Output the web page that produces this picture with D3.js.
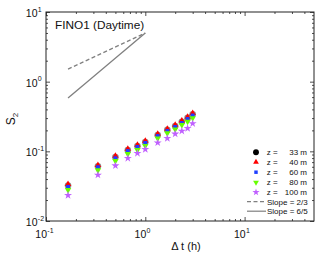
<!DOCTYPE html>
<html><head><meta charset="utf-8">
<script src="https://cdn.jsdelivr.net/npm/d3@7"></script>
<style>body{margin:0;background:#fff}svg{display:block;font-family:"Liberation Sans",Arial,sans-serif}</style>
</head><body><svg id="c" width="319" height="254"></svg>
<script>
// ---- data ----
const dt = [1/6, 1/3, 1/2, 2/3, 5/6, 1, 4/3, 5/3, 2, 7/3, 8/3, 3];
const z33  = [0.0322, 0.0610, 0.0830, 0.1040, 0.1190, 0.1360, 0.1720, 0.2030, 0.2310, 0.2660, 0.3020, 0.3400];
const z40  = [0.0337, 0.0632, 0.0859, 0.1080, 0.1236, 0.1410, 0.1780, 0.2096, 0.2390, 0.2760, 0.3120, 0.3520];
const z60  = [0.0309, 0.0592, 0.0796, 0.1010, 0.1156, 0.1320, 0.1660, 0.1960, 0.2240, 0.2550, 0.2920, 0.3270];
const z80  = [0.0279, 0.0536, 0.0728, 0.0918, 0.1047, 0.1200, 0.1540, 0.1820, 0.2070, 0.2390, 0.2670, 0.3010];
const z100 = [0.0234, 0.0458, 0.0623, 0.0796, 0.0939, 0.1070, 0.1330, 0.1540, 0.1780, 0.1960, 0.2140, 0.2510];
const seriesNames = ["z =   33 m", "z =   40 m", "z =   60 m", "z =   80 m", "z =  100 m"];
const heights = ["33 m", "40 m", "60 m", "80 m", "100 m"];
const slopeRange = [1/6, 1];
const slopeCoef = 5;
const slopes = [2/3, 6/5];
const slopeLabels = ["Slope = 2/3", "Slope = 6/5"];
const xMajor = [0.1, 1, 10];
const yMajor = [0.01, 0.1, 1, 10];
const xExp = ["-1", "0", "1"];
const yExp = ["-2", "-1", "0", "1"];

// ---- layout ----
const L = 46, R = 314, T = 12, B = 221;
const svg = d3.select("#c");
const x = d3.scaleLog().domain([0.1, 50]).range([L, R]);
const y = d3.scaleLog().domain([0.01, 10]).range([B, T]);

function minors(lo, hi) {
  const out = [];
  for (let e = Math.floor(Math.log10(lo)); e <= Math.ceil(Math.log10(hi)); e++)
    for (let m = 2; m <= 9; m++) { const v = m * Math.pow(10, e); if (v > lo && v < hi) out.push(v); }
  return out;
}
const axCol = "#222";
function styleAxis(g) { g.select(".domain").remove(); g.selectAll("line").attr("stroke", axCol).attr("stroke-width", 0.8); }

// minor & major ticks on all four sides (inward)
[[d3.axisBottom, B, "x"], [d3.axisTop, T, "x"]].forEach(([ax, pos]) => {
  svg.append("g").attr("transform", `translate(0,${pos})`)
    .call(ax(x).tickValues(minors(0.1, 50)).tickSize(pos === B ? -2 : -2).tickFormat("")).call(styleAxis);
  svg.append("g").attr("transform", `translate(0,${pos})`)
    .call(ax(x).tickValues(xMajor).tickSize(-4).tickFormat("")).call(styleAxis);
});
[[d3.axisLeft, L], [d3.axisRight, R]].forEach(([ax, pos]) => {
  svg.append("g").attr("transform", `translate(${pos},0)`)
    .call(ax(y).tickValues(minors(0.01, 10)).tickSize(-2).tickFormat("")).call(styleAxis);
  svg.append("g").attr("transform", `translate(${pos},0)`)
    .call(ax(y).tickValues(yMajor).tickSize(-4).tickFormat("")).call(styleAxis);
});

// frame
svg.append("rect").attr("x", L).attr("y", T).attr("width", R - L).attr("height", B - T)
  .attr("fill", "none").attr("stroke", axCol).attr("stroke-width", 1);

// tick labels
xMajor.forEach((v, i) => {
  const tx = x(v) + 1;
  svg.append("text").attr("x", tx).attr("y", 238).attr("text-anchor", "end").attr("font-size", 10.5).attr("fill", "#111").text("10");
  svg.append("text").attr("x", tx + 0.3).attr("y", 232.5).attr("font-size", 7).attr("fill", "#111").text(xExp[i]);
});
yMajor.forEach((v, i) => {
  const ty = y(v);
  svg.append("text").attr("x", 37.5).attr("y", ty + 5).attr("text-anchor", "end").attr("font-size", 10.5).attr("fill", "#111").text("10");
  svg.append("text").attr("x", 37.8).attr("y", ty - 0.5).attr("font-size", 7).attr("fill", "#111").text(yExp[i]);
});

// axis titles
svg.append("text").attr("x", 186).attr("y", 249.5).attr("text-anchor", "middle").attr("font-size", 11).attr("fill", "#111").text("Δ t (h)");
const yl = svg.append("text").attr("transform", "translate(15,119) rotate(-90)").attr("text-anchor", "middle").attr("font-size", 12).attr("fill", "#111");
yl.append("tspan").text("S");
yl.append("tspan").attr("font-size", 8).attr("dy", 3).text("2");

// title
svg.append("text").attr("x", 55).attr("y", 28.5).attr("font-size", 11.8).attr("fill", "#111").text("FINO1 (Daytime)");

// reference slope lines
const lineGen = d3.line().x(d => x(d[0])).y(d => y(d[1]));
const dashes = ["4,2.5", null];
slopes.forEach((s, i) => {
  const pts = slopeRange.map(t => [t, slopeCoef * Math.pow(t, s)]);
  svg.append("path").attr("d", lineGen(pts)).attr("fill", "none").attr("stroke", "#808080")
    .attr("stroke-width", 1.3).attr("stroke-dasharray", dashes[i]);
});

// markers
const series = [z33, z40, z60, z80, z100];
const colors = ["#000000", "#ff0000", "#1f3fff", "#66ff00", "#c060ff"];
const shapes = [d3.symbolCircle, d3.symbolTriangle, d3.symbolSquare, d3.symbolTriangle, d3.symbolStar];
const sizes = [34, 18, 15, 18, 20];
const rots = [0, 0, 0, 180, 0];
const opac = [0.45, 1, 1, 1, 1];
series.forEach((vals, si) => {
  const sym = d3.symbol().type(shapes[si]).size(sizes[si]);
  svg.append("g").selectAll("path").data(vals).join("path")
    .attr("d", sym)
    .attr("transform", (d, i) => `translate(${x(dt[i])},${y(d)}) rotate(${rots[si]})`)
    .attr("fill", colors[si]).attr("fill-opacity", opac[si]);
});

// legend
const lgY = [152.3, 162.2, 172.2, 182.4, 192.2, 201.7, 211.2];
const lg = svg.append("g").attr("font-size", 8).attr("fill", "#111");
series.forEach((_, si) => {
  const sym = d3.symbol().type(shapes[si]).size(sizes[si] * 0.8);
  lg.append("path").attr("d", sym).attr("transform", `translate(256,${lgY[si]}) rotate(${rots[si]})`).attr("fill", colors[si]);
  lg.append("text").attr("x", 266.7).attr("y", lgY[si] + 3).text("z =");
  lg.append("text").attr("x", 307).attr("y", lgY[si] + 3).attr("text-anchor", "end").text(heights[si]);
});
slopes.forEach((s, i) => {
  const yy = lgY[5 + i];
  lg.append("line").attr("x1", 247).attr("x2", 266).attr("y1", yy).attr("y2", yy)
    .attr("stroke", "#808080").attr("stroke-width", 1.2).attr("stroke-dasharray", dashes[i]);
  lg.append("text").attr("x", 267).attr("y", yy + 3).text(slopeLabels[i]);
});
</script></body></html>
